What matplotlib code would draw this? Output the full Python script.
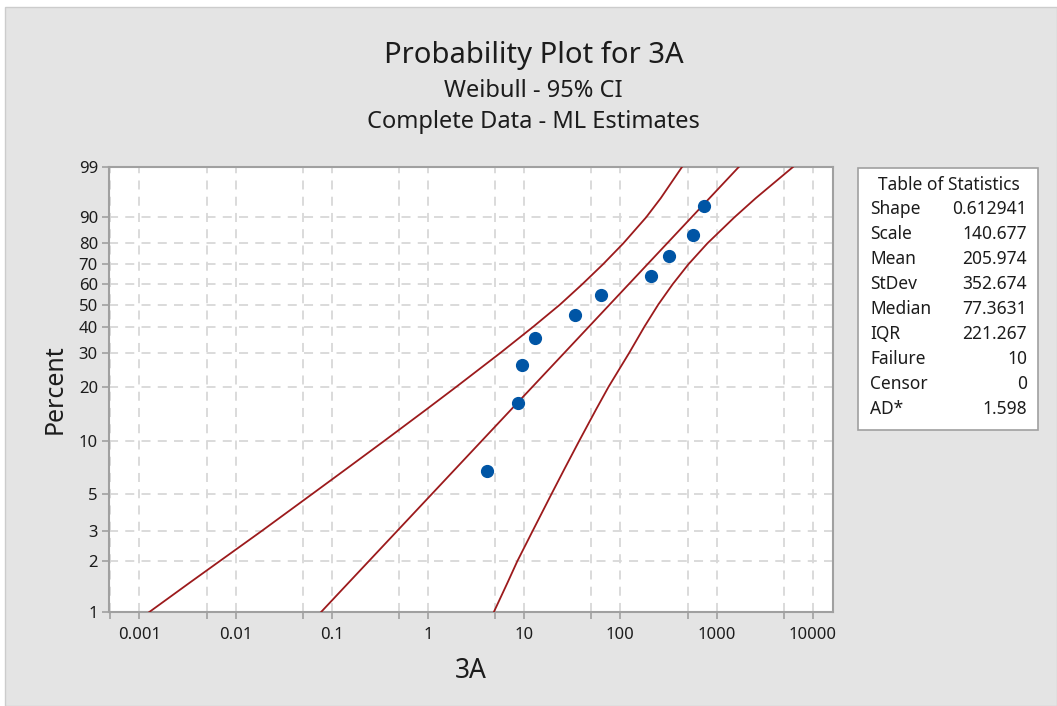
''' Weibull probability plot for 3A with 95% confidence bands (Minitab style). '''

import numpy as np
import matplotlib
matplotlib.use('Agg')
import matplotlib.pyplot as plt
from matplotlib.patches import Rectangle

plt.rcParams['font.family'] = ['Noto Sans', 'DejaVu Sans']

# observed failures and their median-rank percentages
obs_x = [4.11, 8.56, 9.42, 12.95, 34.0, 62.4, 206.5, 320, 573, 740]
obs_pct = [6.73, 16.35, 25.96, 35.58, 45.19, 54.81, 64.42, 74.04, 83.65, 93.27]

# fitted Weibull parameters (ML)
shape = 0.612941
scale = 140.677

# 95% confidence band at these percent levels
band_pct = [1, 1.5, 2, 3, 5, 7, 10, 15, 20, 30, 40, 50, 60, 70, 80, 90,
            95, 99]
band_lower = [0.001268, 0.00337, 0.0068, 0.01838, 0.0633, 0.1438, 0.3458,
              0.9486, 1.967, 5.673, 12.43, 23.59, 40.1, 65.7, 107.2, 185.1,
              262.4, 436.7]
band_upper = [4.836, 6.73, 8.47, 12.16, 19.31, 26.38, 37.08, 55.55, 75.3,
              123.6, 177.6, 247.6, 349.1, 507.6, 801.8, 1530, 2548, 6222]

# axis ticks
y_ticks = [1, 2, 3, 5, 10, 20, 30, 40, 50, 60, 70, 80, 90, 99]
x_ticks = [0.001, 0.01, 0.1, 1, 10, 100, 1000, 10000]
x_labels = ['0.001', '0.01', '0.1', '1', '10', '100', '1000', '10000']
x_minor = [0.0005, 0.005, 0.05, 0.5, 5, 50, 500, 5000]

# statistics table
stat_names = ['Shape', 'Scale', 'Mean', 'StDev', 'Median', 'IQR',
              'Failure', 'Censor', 'AD*']
stat_values = ['0.612941', '140.677', '205.974', '352.674', '77.3631',
               '221.267', '10', '0', '1.598']


#----------------------------------------------------------------------
def weibull_fwd(p):
    """Percent -> ln(-ln(1-p))"""
    p = np.asarray(p, dtype=float)
    with np.errstate(all='ignore'):
        q = np.clip(p / 100.0, 1e-12, 1 - 1e-12)
        return np.log(-np.log(1 - q))


def weibull_inv(z):
    z = np.asarray(z, dtype=float)
    with np.errstate(all='ignore'):
        return 100.0 * (1 - np.exp(-np.exp(z)))


W, H = 1057, 706
TXT = '#1c1c1c'
fig = plt.figure(figsize=(W / 100, H / 100), dpi=100, facecolor='white')

# gray panel behind everything
fig.patches.append(Rectangle((5 / W, 0), 1 - 5 / W, 1 - 7 / H,
                             transform=fig.transFigure, facecolor='#e4e4e4',
                             edgecolor='#cccccc', lw=1, zorder=-10))

ax = fig.add_axes([109 / W, 1 - 612 / H, (833 - 109) / W, (612 - 167) / H])
ax.set_facecolor('white')

ax.set_xscale('log')
ax.set_yscale('function', functions=(weibull_fwd, weibull_inv))

# fitted line from shape and scale
fit_p = np.array(band_pct, dtype=float)
fit_x = scale * (-np.log(1 - fit_p / 100.0)) ** (1.0 / shape)

red = '#9c1a1c'
ax.plot(fit_x, fit_p, color=red, lw=1.3, zorder=3)
ax.plot(band_lower, band_pct, color=red, lw=1.3, zorder=3)
ax.plot(band_upper, band_pct, color=red, lw=1.3, zorder=3)
ax.plot(obs_x, obs_pct, 'o', color='#0055a5', ms=8.5, zorder=4)

ax.set_xlim(10 ** -3.316, 10 ** 4.21)
ax.set_ylim(1, 99)

ax.set_xticks(x_ticks)
ax.set_xticklabels(x_labels)
ax.set_xticks(x_minor, minor=True)
ax.xaxis.set_minor_formatter(plt.NullFormatter())
ax.set_yticks(y_ticks)
ax.set_yticklabels([str(t) for t in y_ticks])
ax.yaxis.set_minor_locator(plt.NullLocator())

ax.tick_params(axis='both', which='both', direction='out', length=5,
               width=1.2, color='#a0a0a0', labelsize=12, labelcolor=TXT)
ax.tick_params(axis='x', pad=6)
ax.tick_params(axis='y', pad=3)

grid_kw = dict(color='#d8d8d8', lw=1.3, ls=(0, (5, 4)))
ax.grid(True, which='both', axis='x', **grid_kw)
ax.grid(True, which='major', axis='y', **grid_kw)
ax.set_axisbelow(True)

for s in ax.spines.values():
    s.set_color('#a0a0a0')
    s.set_linewidth(1.5)

ax.set_xlabel('3A', fontsize=19, labelpad=10, color=TXT)
ax.set_ylabel('Percent', fontsize=18, labelpad=8, color=TXT)

# titles
fig.text(0.505, 1 - 55 / H, 'Probability Plot for 3A', ha='center',
         va='center', fontsize=21, color=TXT)
fig.text(0.505, 1 - 91 / H, 'Weibull - 95% CI', ha='center', va='center',
         fontsize=17, color=TXT)
fig.text(0.505, 1 - 122 / H, 'Complete Data - ML Estimates', ha='center',
         va='center', fontsize=17, color=TXT)

# table of statistics
fig.patches.append(Rectangle((858 / W, 1 - 430 / H), 180 / W, 262 / H,
                             transform=fig.transFigure, facecolor='white',
                             edgecolor='#a0a0a0', lw=1.2))
fig.text(949 / W, 1 - 185 / H, 'Table of Statistics', ha='center',
         va='center', fontsize=12.5, color=TXT)
for i, (name, val) in enumerate(zip(stat_names, stat_values)):
    yy = 1 - (209 + i * 25.0) / H
    fig.text(870 / W, yy, name, ha='left', va='center', fontsize=12.5,
             color=TXT)
    fig.text(1027 / W, yy, val, ha='right', va='center', fontsize=12.5,
             color=TXT)

fig.savefig('out.png', dpi=100, facecolor=fig.get_facecolor())
